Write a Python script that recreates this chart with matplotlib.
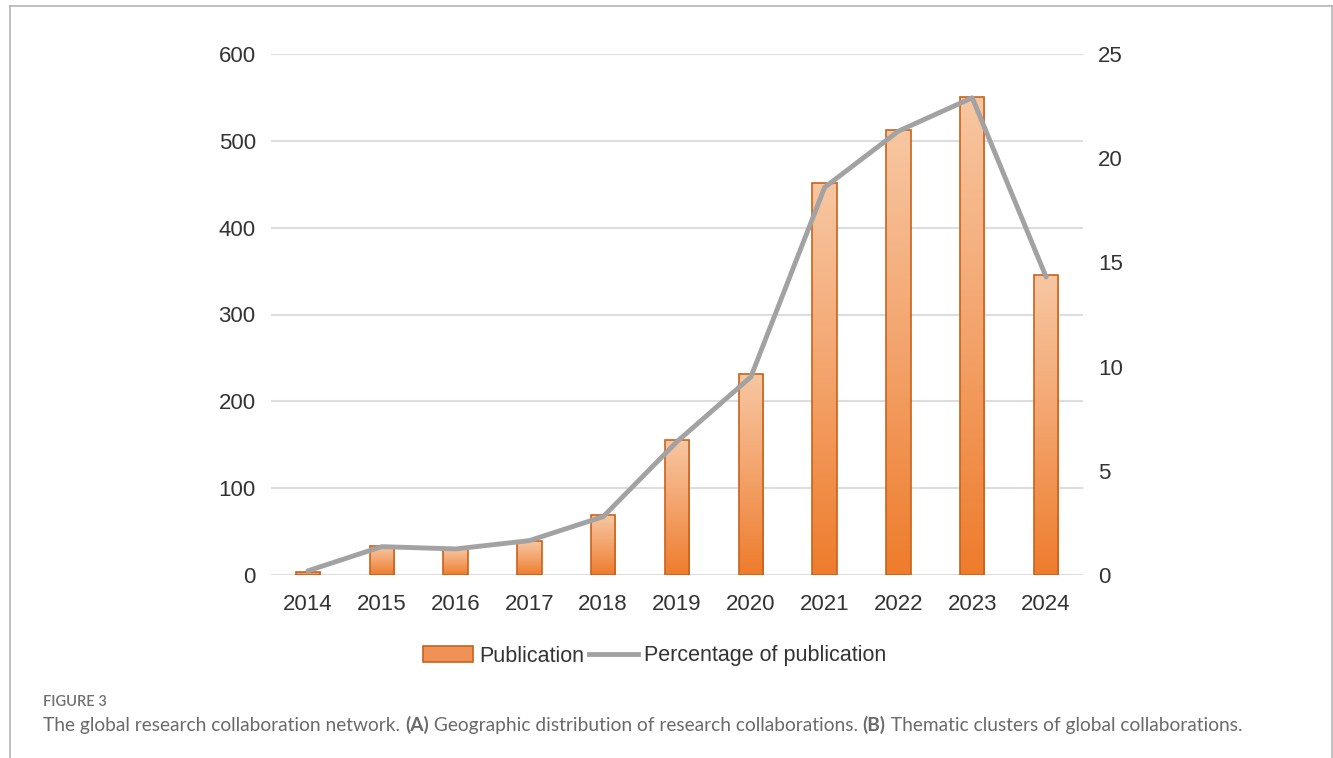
import matplotlib
matplotlib.use("Agg")
import matplotlib.pyplot as plt
from matplotlib.colors import LinearSegmentedColormap
from matplotlib.patches import Patch
from matplotlib.lines import Line2D
import numpy as np

years = ["2014", "2015", "2016", "2017", "2018", "2019", "2020", "2021", "2022", "2023", "2024"]
publications = [4, 33, 30, 39, 69, 155, 231, 452, 512, 550, 345]
percentages = [0.2, 1.36, 1.25, 1.65, 2.8, 6.4, 9.5, 18.6, 21.3, 22.9, 14.3]

left_ticks = [0, 100, 200, 300, 400, 500, 600]
right_ticks = [0, 5, 10, 15, 20, 25]

plt.rcParams['font.family'] = ['Liberation Sans', 'DejaVu Sans']

W, H = 1333, 758
fig = plt.figure(figsize=(W / 100, H / 100), dpi=100)
fig.patch.set_facecolor('white')

ax = fig.add_axes([271 / W, 1 - 575 / H, (1083 - 271) / W, (575 - 54) / H])
ax2 = ax.twinx()

x = np.arange(len(years))
bar_w = 0.33
bars = ax.bar(x, publications, width=bar_w, facecolor='none',
              edgecolor='#c9621c', linewidth=1.2, zorder=3)

cmap = LinearSegmentedColormap.from_list('bar', ['#ee7c2c', '#f3a36b', '#f7c7a2'])
grad = np.linspace(0, 1, 256).reshape(-1, 1)
for b in bars:
    bx, by = b.get_x(), b.get_y()
    bw, bh = b.get_width(), b.get_height()
    im = ax.imshow(grad, cmap=cmap, origin='lower', aspect='auto',
                   extent=[bx, bx + bw, by, by + bh], zorder=2)
    im.set_clip_path(b)

ax.set_xlim(-0.5, len(years) - 0.5)
ax.set_ylim(0, 600)
ax.set_yticks(left_ticks)
ax.set_xticks(x)
ax.set_xticklabels(years)
ax.grid(axis='y', color='#dddddd', linewidth=1.5, zorder=0)
ax.set_axisbelow(True)

ax2.plot(x, percentages, color='#a2a2a2', linewidth=3.5, solid_capstyle='round',
         solid_joinstyle='round', zorder=5)
ax2.set_ylim(0, 25)
ax2.set_yticks(right_ticks)

for a in (ax, ax2):
    for s in a.spines.values():
        s.set_visible(False)
    a.tick_params(length=0, labelsize=16, labelcolor='#333333')
ax.tick_params(axis='y', pad=11)
ax.tick_params(axis='x', pad=14)
ax2.tick_params(axis='y', pad=11)

handles = [Patch(facecolor='#f09257', edgecolor='#c9621c', linewidth=1.2),
           Line2D([0], [0], color='#a2a2a2', linewidth=3.5)]
fig.legend(handles, ['Publication', 'Percentage of publication'],
           loc='center', bbox_to_anchor=(655 / W, 1 - 656 / H), ncol=2,
           frameon=False, fontsize=15.5, handlelength=2.3, handleheight=0.8,
           columnspacing=0.2, handletextpad=0.3, labelcolor='#333333')

# figure frame
fc = '#b5b5b5'
fig.add_artist(Line2D([10 / W, 1331.5 / W], [1 - 6 / H, 1 - 6 / H],
                      color=fc, linewidth=1.2, transform=fig.transFigure))
fig.add_artist(Line2D([10 / W, 10 / W], [0, 1 - 6 / H],
                      color=fc, linewidth=1.2, transform=fig.transFigure))
fig.add_artist(Line2D([1331.5 / W, 1331.5 / W], [0, 1 - 6 / H],
                      color=fc, linewidth=1.2, transform=fig.transFigure))

# caption
cap_font = ['Lato', 'DejaVu Sans']
fig.text(43 / W, 1 - 702 / H, 'FIGURE 3', fontsize=10.5, color='#707070',
         family=cap_font, va='center', fontweight='semibold')

pieces = [("The global research collaboration network. ", 'normal'),
          ("(A)", 'bold'),
          (" Geographic distribution of research collaborations. ", 'normal'),
          ("(B)", 'bold'),
          (" Thematic clusters of global collaborations.", 'normal')]
renderer = fig.canvas.get_renderer()
xpos = 43
for txt, wt in pieces:
    t = fig.text(xpos / W, 1 - 725 / H, txt, fontsize=13.8, color='#6a6a6a',
                 family=cap_font, fontweight=wt, va='center')
    bb = t.get_window_extent(renderer=renderer)
    xpos += bb.width

fig.savefig('out.png', dpi=100)
